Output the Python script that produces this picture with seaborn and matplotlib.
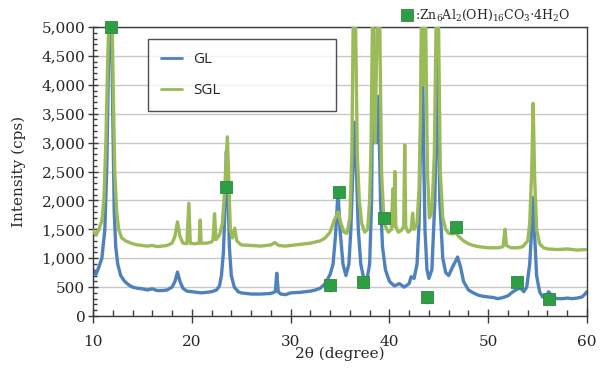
import numpy as np
import pandas as pd
import matplotlib
matplotlib.use("Agg")
import matplotlib.pyplot as plt
from matplotlib.ticker import MultipleLocator, FuncFormatter
import seaborn as sns

# ---------------- data ----------------
gl_x = [10.0, 10.3, 10.6, 10.9, 11.2, 11.4, 11.55, 11.7, 11.85, 12.0, 12.15, 12.3, 12.5, 12.8,
        13.2, 13.6, 14.0, 14.5, 15.0, 15.5, 16.0, 16.5, 17.0, 17.5, 18.0, 18.3, 18.55, 18.8,
        19.1, 19.5, 20.0, 20.5, 21.0, 21.5, 22.0, 22.5, 22.8, 23.0, 23.2, 23.35, 23.5, 23.65,
        23.8, 24.0, 24.3, 24.7, 25.0, 26.0, 27.0, 28.0, 28.45, 28.6, 28.75, 29.0, 29.5, 30.0,
        31.0, 32.0, 32.5, 33.0, 33.5, 34.0, 34.3, 34.55, 34.8, 35.0, 35.3, 35.6, 35.9, 36.1,
        36.3, 36.5, 36.65, 36.85, 37.1, 37.4, 37.7, 38.0, 38.2, 38.35, 38.55, 38.75, 38.9,
        39.1, 39.3, 39.6, 40.0, 40.5, 41.0, 41.5, 42.0, 42.2, 42.5, 42.8, 43.0, 43.2, 43.3,
        43.45, 43.6, 43.8, 44.0, 44.3, 44.6, 44.85, 45.1, 45.4, 45.7, 46.0, 46.4, 46.9, 47.2,
        47.5, 48.0, 48.5, 49.0, 49.5, 50.0, 50.5, 51.0, 51.5, 52.0, 52.5, 53.0, 53.3, 53.6,
        53.9, 54.2, 54.4, 54.55, 54.7, 54.9, 55.2, 55.5, 55.9, 56.1, 56.3, 56.6, 57.0, 57.5,
        58.0, 58.5, 59.0, 59.5, 59.8, 60.0]
gl_y = [800, 720, 850, 1000, 1500, 2600, 4200, 5400, 5400, 3500, 1800, 1200, 900, 700,
        600, 540, 500, 480, 470, 450, 470, 440, 440, 450, 500, 600, 760, 600,
        480, 430, 420, 410, 400, 410, 420, 450, 520, 700, 1100, 1800, 2850, 2300,
        1200, 700, 500, 420, 400, 380, 380, 390, 420, 740, 420, 380, 370, 400,
        410, 430, 450, 480, 560, 720, 900, 1400, 2150, 1500, 900, 700, 900, 1500,
        2500, 3350, 2600, 1500, 900, 650, 600, 900, 2000, 5400, 3000, 3000, 3800,
        2000, 1200, 800, 600, 520, 560, 500, 560, 680, 650, 900, 1600, 3500, 5400,
        3000, 1500, 800, 650, 800, 2000, 4500, 2000, 1000, 750, 700, 850, 1020, 850,
        600, 450, 400, 360, 340, 330, 320, 300, 320, 350, 420, 470, 480, 420,
        500, 900, 1500, 2050, 1400, 700, 420, 330, 330, 420, 380, 320, 300, 300,
        310, 300, 310, 330, 380, 420]

sgl_x = [10.0, 10.3, 10.6, 10.9, 11.1, 11.3, 11.5, 11.65, 11.9, 12.05, 12.2, 12.4, 12.6, 12.9,
         13.3, 14.0, 14.5, 15.0, 15.5, 16.0, 16.5, 17.0, 17.5, 18.0, 18.3, 18.55, 18.8, 19.1,
         19.5, 19.7, 19.85, 20.3, 20.75, 20.85, 20.95, 21.5, 22.0, 22.15, 22.3, 22.45, 22.8,
         23.1, 23.3, 23.45, 23.6, 23.75, 23.9, 24.1, 24.35, 24.55, 25.0, 26.0, 27.0, 28.0,
         28.4, 28.8, 29.5, 30.0, 31.0, 32.0, 33.0, 33.5, 34.0, 34.4, 34.8, 35.1, 35.4, 35.7,
         36.0, 36.2, 36.35, 36.55, 36.75, 36.95, 37.2, 37.5, 37.8, 38.0, 38.15, 38.3, 38.55,
         38.8, 39.0, 39.2, 39.4, 39.6, 39.9, 40.2, 40.35, 40.45, 40.55, 40.65, 40.9, 41.2,
         41.45, 41.55, 41.65, 41.9, 42.2, 42.35, 42.5, 42.8, 43.0, 43.15, 43.25, 43.45, 43.65,
         43.85, 44.05, 44.3, 44.55, 44.75, 44.95, 45.15, 45.4, 45.7, 46.0, 46.4, 46.7, 47.0,
         47.5, 48.0, 48.5, 49.0, 49.5, 50.0, 50.5, 51.0, 51.5, 51.7, 51.85, 52.3, 53.0, 53.5,
         54.0, 54.2, 54.4, 54.55, 54.7, 54.9, 55.2, 55.6, 56.0, 57.0, 58.0, 59.0, 60.0]
sgl_y = [1480, 1400, 1500, 1650, 2000, 3000, 4500, 5400, 5400, 4000, 2500, 1800, 1500, 1350,
         1300, 1250, 1230, 1220, 1210, 1220, 1200, 1210, 1220, 1260, 1380, 1630, 1380, 1260,
         1250, 1950, 1260, 1250, 1260, 1660, 1260, 1260, 1280, 1320, 1770, 1320, 1400,
         1600, 2100, 2600, 3100, 2300, 1500, 1350, 1520, 1300, 1230, 1220, 1210, 1230,
         1270, 1220, 1210, 1220, 1240, 1260, 1300, 1350, 1450, 1650, 1800, 1600, 1450, 1430,
         1700, 2800, 5400, 5400, 2800, 2000, 1600, 1450, 1500, 2000, 3000, 5400, 3000,
         5400, 5400, 2500, 1800, 1550, 1450, 1500, 2200, 1550, 2500, 1550, 1450, 1480,
         1550, 2960, 1550, 1450, 1500, 1780, 1500, 1600, 2200, 3500, 5400, 4000, 5400,
         2500, 1700, 1800, 2800, 5400, 5400, 2500, 1700, 1500, 1430, 1420, 1440, 1380,
         1300, 1250, 1220, 1200, 1190, 1180, 1180, 1180, 1200, 1500, 1220, 1180, 1180, 1200,
         1300, 1600, 2500, 3680, 2400, 1500, 1250, 1180, 1160, 1150, 1160, 1140, 1150]

marker_x = [11.8, 23.5, 34.9, 34.0, 37.3, 39.45, 43.8, 46.7, 52.9, 56.2]
marker_y = [5000, 2240, 2145, 535, 595, 1695, 330, 1540, 595, 295]
dot_x = [34.0, 43.8]
dot_y = [470, 265]

series_names = ["GL", "SGL"]
legend_note = r":Zn$_6$Al$_2$(OH)$_{16}$CO$_3$$\cdot$4H$_2$O"
x_label = "2θ (degree)"
y_label = "Intensity (cps)"

# ---------------- style ----------------
sns.set_style("white")
plt.rcParams["font.family"] = ["DejaVu Serif"]
plt.rcParams["mathtext.fontset"] = "dejavuserif"

BLUE = "#4F81BD"
GREEN = "#9BBB59"
MARK = "#2E9E45"

fig = plt.figure(figsize=(6.05, 3.69), dpi=100)
ax = fig.add_axes([93 / 605, 1 - 316 / 369, 494 / 605, 289 / 369])

df_gl = pd.DataFrame({"x": gl_x, "y": gl_y})
df_sgl = pd.DataFrame({"x": sgl_x, "y": sgl_y})
sns.lineplot(data=df_gl, x="x", y="y", color=BLUE, lw=2.4, ax=ax, label=series_names[0], zorder=2)
sns.lineplot(data=df_sgl, x="x", y="y", color=GREEN, lw=2.4, ax=ax, label=series_names[1], zorder=3)

sns.scatterplot(x=dot_x, y=dot_y, color="#E08A4A", s=18, marker="o", linewidth=0, ax=ax,
                zorder=4, clip_on=False)
sns.scatterplot(x=marker_x, y=marker_y, color=MARK, s=66, marker="s", edgecolor="#2B8A3C",
                linewidth=0.6, ax=ax, zorder=5, clip_on=False)

ax.set_xlim(10, 60)
ax.set_ylim(0, 5000)
ax.xaxis.set_major_locator(MultipleLocator(10))
ax.xaxis.set_minor_locator(MultipleLocator(2))
ax.yaxis.set_major_locator(MultipleLocator(500))
ax.yaxis.set_minor_locator(MultipleLocator(100))
ax.yaxis.set_major_formatter(FuncFormatter(lambda v, p: f"{int(v):,}"))

ax.grid(axis="y", which="major", color="#C8C8C8", lw=1.0, zorder=0)
ax.set_axisbelow(True)
for s in ax.spines.values():
    s.set_visible(True)
    s.set_color("#3A3A3A")
    s.set_linewidth(1.0)

ax.tick_params(axis="x", which="major", direction="inout", length=10, width=1, color="#3A3A3A",
               labelsize=11, pad=9, bottom=True)
ax.tick_params(axis="x", which="minor", direction="in", length=4, width=1, color="#3A3A3A", bottom=True)
ax.tick_params(axis="y", which="major", direction="inout", length=7, width=1, color="#3A3A3A",
               labelsize=11, pad=2, left=True)
ax.tick_params(axis="y", which="minor", direction="in", length=3, width=1, color="#3A3A3A", left=True)

ax.set_xlabel(x_label, fontsize=11)
ax.set_ylabel(y_label, fontsize=11)
ax.xaxis.set_label_coords(0.5, -0.105)
ax.yaxis.set_label_coords(-0.135, 0.5)

leg = ax.legend(loc="upper left", bbox_to_anchor=(0.111, 0.958, 0.381, 0.0), mode="expand",
                frameon=True, fancybox=False, borderpad=0.85, labelspacing=1.05,
                handlelength=1.4, handletextpad=0.7, borderaxespad=0,
                prop={"family": ["Open Sans", "DejaVu Sans"], "size": 11})
leg.get_frame().set_edgecolor("#222222")
leg.get_frame().set_linewidth(1.0)
for h in leg.get_lines():
    h.set_linewidth(2.0)

# formula note above the axes
ax.plot([(407 - 93) / 494], [(316 - 15) / 289], marker="s", ms=8.5, color=MARK,
        mec="#2B8A3C", mew=0.6, transform=ax.transAxes, clip_on=False)
fig.text(415 / 605, 1 - 15 / 369, legend_note, fontsize=9, va="center", ha="left",
         family=["DejaVu Serif"])

fig.savefig("out.png", dpi=100)
